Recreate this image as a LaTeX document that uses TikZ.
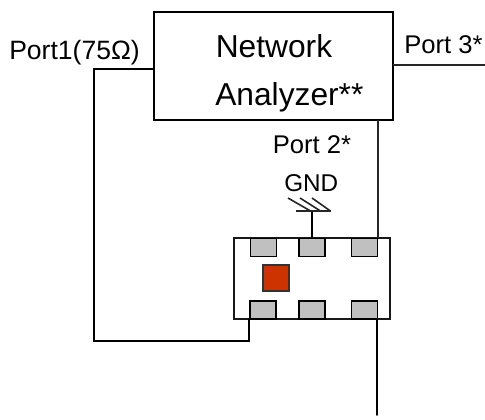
\documentclass[tikz,border=0pt]{standalone}
\usepackage{fontspec}
\setmainfont{Liberation Sans}
\definecolor{diered}{HTML}{CC3300}
\definecolor{padgrey}{HTML}{C0C0C0}
\tikzset{
  x=0.75pt,y=-0.75pt,
  wire/.style={draw=black,line width=1.35pt,line cap=round},
  wirethin/.style={draw=black!85,line width=1.2pt},
  pad/.style={draw=black,fill=padgrey,line width=1.35pt,rectangle,inner sep=0pt,minimum width=19.5pt,minimum height=13.5pt},
  die/.style={draw=black!80,fill=diered,line width=1.2pt,rectangle,inner sep=0pt,minimum width=19.5pt,minimum height=19.5pt},
  pkg/.style={draw=black!90,line width=1.2pt,rectangle,inner sep=0pt,minimum width=117pt,minimum height=60.75pt},
  analyzer/.style={draw=black,line width=1.35pt,rectangle,inner sep=0pt,minimum width=179.25pt,minimum height=81pt},
  lab/.style={inner sep=0pt,anchor=base west,font=\fontsize{19.2}{22}\selectfont,text=black},
  widelab/.style={inner sep=0pt,anchor=base west,font=\fontsize{19.9}{22}\selectfont,text=black},
  gndlab/.style={inner sep=0pt,anchor=base west,font=\fontsize{18.2}{22}\selectfont,text=black},
  biglab/.style={inner sep=0pt,anchor=base west,font=\fontsize{23.8}{28}\selectfont,text=black}
}
\begin{document}
\begin{tikzpicture}
\useasboundingbox (0,0) rectangle (485,419);
\node[analyzer] (na) at (273.5,66) {};
\node[pkg] (pk) at (312,278.5) {};
\node[pad] (t1) at (263.5,247.5) {};
\node[pad] (t2) at (312,247.5) {};
\node[pad] (t3) at (364.5,247.5) {};
\node[pad] (b1) at (263,310) {};
\node[pad] (b2) at (312,310) {};
\node[pad] (b3) at (364.5,310) {};
\node[die] (d) at (276,278) {};
\coordinate (p1a) at (154,69);
\coordinate (p1b) at (94,69);
\coordinate (p1c) at (94,341);
\coordinate (p1d) at (249,341);
\coordinate (p1e) at (249,319);
\draw[wire] (p1a) -- (p1b) -- (p1c) -- (p1d) -- (p1e);
\coordinate (p3a) at (393,65);
\coordinate (p3b) at (485,65);
\draw[wirethin] (p3a) -- (p3b);
\coordinate (p2a) at (378,120);
\coordinate (p2b) at (378,238);
\draw[wirethin] (p2a) -- (p2b);
\coordinate (outa) at (377,319);
\coordinate (outb) at (377,415);
\draw[wire] (outa) -- (outb);
\coordinate (ga) at (311.7,238);
\coordinate (gb) at (311.7,210.7);
\draw[wire] (ga) -- (gb);
\coordinate (gl) at (296,210.7);
\coordinate (gr) at (331,210.7);
\draw[wirethin] (gl) -- (gr);
\coordinate (h1a) at (288,198);
\coordinate (h1b) at (310,210.7);
\coordinate (h2a) at (300,198);
\coordinate (h2b) at (320,210.7);
\coordinate (h3a) at (312,198);
\coordinate (h3b) at (330,210.7);
\draw[wirethin] (h1a) -- (h1b);
\draw[wirethin] (h2a) -- (h2b);
\draw[wirethin] (h3a) -- (h3b);
\node[widelab] (l1) at (9,59) {Port1(75Ω)};
\node[lab] (l3) at (404,53) {Port 3*};
\node[lab] (l2) at (272.5,153) {Port 2*};
\node[gndlab] (lg) at (284,191) {GND};
\node[biglab] (n1) at (215.5,57) {Network};
\node[biglab] (n2) at (215,105) {Analyzer**};
\end{tikzpicture}
\end{document}
